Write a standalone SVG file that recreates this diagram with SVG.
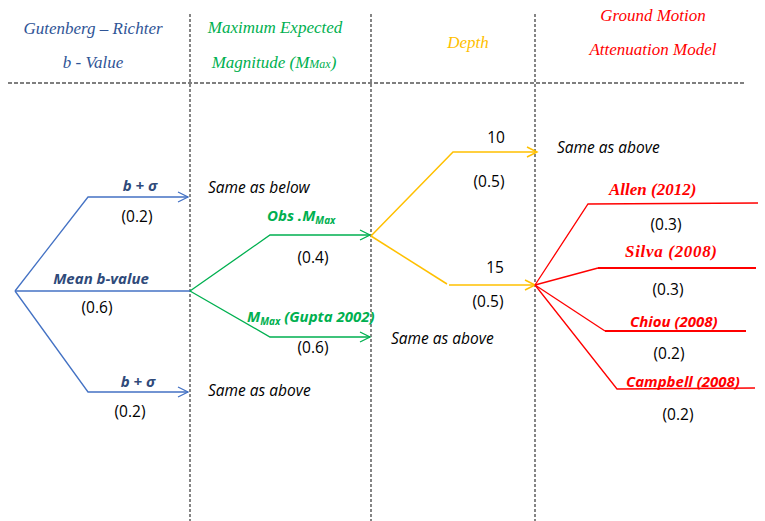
<svg xmlns="http://www.w3.org/2000/svg" width="765" height="521" viewBox="0 0 765 521">
<style>
.hdr{font-family:"Liberation Serif","Times New Roman",serif;font-style:italic;font-size:17px;text-anchor:middle}
.num{font-family:"Open Sans","Liberation Sans",sans-serif;font-size:15.5px;fill:#000;text-anchor:middle}
.note{font-family:"Open Sans","Liberation Sans",sans-serif;font-style:italic;font-size:15.5px;fill:#000}
.lab{font-family:"Open Sans","Liberation Sans",sans-serif;font-style:italic;font-weight:bold;font-size:15px}
.slab{font-family:"Liberation Serif","Times New Roman",serif;font-style:italic;font-weight:bold;font-size:17px;fill:#FF0000}
.grid{stroke:#444;stroke-width:1.3;stroke-dasharray:3,2;fill:none}
.hgrid{stroke:#000;stroke-width:1.2;stroke-dasharray:4,2;fill:none}
.blue{stroke:#4472C4;stroke-width:1.3;fill:none}
.green{stroke:#00B050;stroke-width:1.3;fill:none}
.yellow{stroke:#FFC000;stroke-width:1.5;fill:none}
.red{stroke:#FF0000;stroke-width:1.3;fill:none}
.redb{stroke:#FF0000;stroke-width:2.2;fill:none}
</style>
<rect width="765" height="521" fill="#fff"/>
<g id="grid">
<line class="grid" x1="190" y1="14" x2="190" y2="521"/>
<line class="grid" x1="371" y1="14" x2="371" y2="521"/>
<line class="grid" x1="535" y1="14" x2="535" y2="521"/>
<line class="hgrid" x1="8" y1="83" x2="745" y2="83"/>
</g>
<g id="headers">
<text class="hdr" x="93" y="34" fill="#2F5496">Gutenberg – Richter</text>
<text class="hdr" x="93" y="68" fill="#2F5496">b - Value</text>
<text class="hdr" x="275" y="33" fill="#00B050">Maximum Expected</text>
<text class="hdr" x="274" y="68" fill="#00B050">Magnitude (M<tspan font-size="12">Max</tspan>)</text>
<text class="hdr" x="468" y="48" fill="#FFC000">Depth</text>
<text class="hdr" x="653" y="21" fill="#FF0000">Ground Motion</text>
<text class="hdr" x="653" y="55" fill="#FF0000">Attenuation Model</text>
</g>
<g id="connectors">
<polyline class="blue" points="15,291 88,197 188,197"/>
<polyline class="blue" points="178,192 188,197 178,202"/>
<line class="blue" x1="15" y1="291" x2="190" y2="291"/>
<polyline class="blue" points="15,291 88,392 188,392"/>
<polyline class="blue" points="178,387 188,392 178,397"/>
<polyline class="green" points="190,291 270,235 370,235"/>
<polyline class="green" points="360,230 370,235 360,240"/>
<polyline class="green" points="190,291 270,337 370,337"/>
<polyline class="green" points="360,332 370,337 360,342"/>
<polyline class="yellow" points="371,236 453,152 537,152"/>
<polyline class="yellow" points="527,147 537,152 527,157"/>
<polyline class="yellow" points="371,236 447,284"/>
<line class="yellow" x1="449" y1="285" x2="535" y2="285"/>
<polyline class="yellow" points="525,280 535,285 525,290"/>
<polyline class="red" points="535,285 588,204 758,203"/>
<polyline class="red" points="535,285 598,268"/>
<line class="redb" x1="598" y1="268" x2="756" y2="268"/>
<polyline class="red" points="535,285 605,331"/>
<line class="redb" x1="605" y1="331" x2="746" y2="331"/>
<polyline class="red" points="535,285 617,389 755,388"/>
</g>
<g id="bvalue">
<text class="lab" x="140" y="191" fill="#2F4A7A" text-anchor="middle">b + σ</text>
<text class="num" x="137" y="222">(0.2)</text>
<text class="lab" x="101" y="284" fill="#2F4A7A" text-anchor="middle">Mean b-value</text>
<text class="num" x="97" y="313">(0.6)</text>
<text class="lab" x="138" y="387" fill="#2F4A7A" text-anchor="middle">b + σ</text>
<text class="num" x="130" y="417">(0.2)</text>
</g>
<g id="mmax">
<text class="note" x="208" y="193">Same as below</text>
<text class="lab" x="267" y="221" fill="#00B050">Obs .M<tspan font-size="10" dy="3">Max</tspan></text>
<text class="num" x="313" y="263">(0.4)</text>
<text class="lab" x="247" y="322" fill="#00B050">M<tspan font-size="10" dy="3">Max</tspan><tspan dy="-3"> (Gupta 2002)</tspan></text>
<text class="num" x="313" y="353">(0.6)</text>
<text class="note" x="208" y="396">Same as above</text>
</g>
<g id="depth">
<text class="note" x="391" y="344">Same as above</text>
<text class="num" x="496" y="143">10</text>
<text class="num" x="489" y="187">(0.5)</text>
<text class="num" x="495" y="273">15</text>
<text class="num" x="488" y="307">(0.5)</text>
</g>
<g id="gmpe">
<text class="note" x="557" y="153">Same as above</text>
<text class="slab" x="609" y="195">Allen (2012)</text>
<text class="num" x="666" y="230">(0.3)</text>
<text class="slab" x="625" y="257" font-size="18.5" textLength="92" lengthAdjust="spacing">Silva (2008)</text>
<text class="num" x="668" y="295">(0.3)</text>
<text class="lab" x="630" y="327" fill="#FF0000">Chiou (2008)</text>
<text class="num" x="669" y="359">(0.2)</text>
<text class="lab" x="626" y="387" fill="#FF0000">Campbell (2008)</text>
<text class="num" x="678" y="420">(0.2)</text>
</g>
</svg>
